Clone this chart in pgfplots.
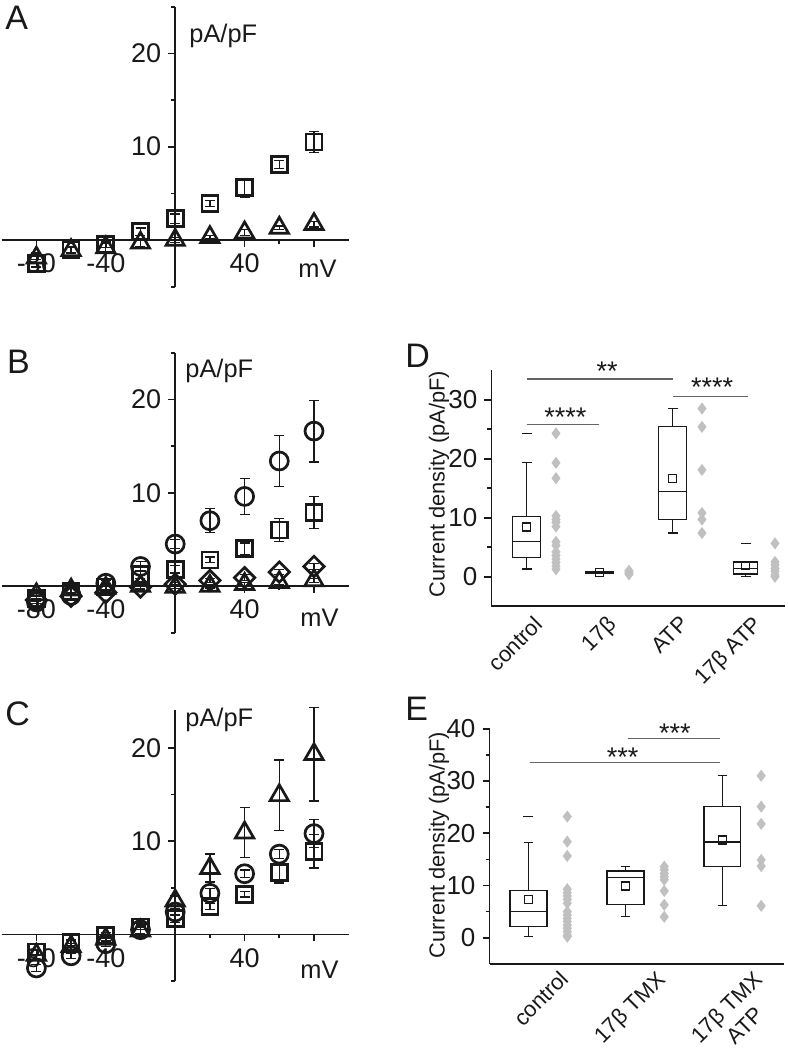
\documentclass[border=0pt]{standalone}
\usepackage{fontspec}
\setmainfont{Liberation Sans}
\usepackage{pgfplots}
\pgfplotsset{compat=1.18}
\usepgfplotslibrary{statistics}
\definecolor{dotgray}{RGB}{192,192,192}
\definecolor{siggray}{RGB}{100,100,100}
\definecolor{ink}{RGB}{25,25,25}

\pgfplotsset{
  iv/.style={
    scale only axis, width=173.5pt,
    axis lines=middle, axis line style={-, line width=0.85pt, ink},
    xmin=-100, xmax=100, ymin=-5,
    xtick={-80,-40,40,80}, xticklabels={-80,-40,40,{}},
    minor xtick={-60,-20,20,60},
    ytick={10,20}, minor ytick={-5,5,15,25},
    tick align=outside, major tick length=3.5pt, minor tick length=2pt,
    every tick/.style={line width=0.85pt, ink},
    ticklabel style={font=\fontsize{13.5}{16}\selectfont, text=ink},
    /pgf/number format/assume math mode=true,
    clip=false,
  },
  ivpt/.style={only marks, line width=1.35pt, ink,
    error bars/y dir=both, error bars/y explicit, error bars/error mark=-,
    error bars/error mark options={rotate=90, mark size=2.5pt, line width=0.65pt, ink},
    error bars/error bar style={line width=0.65pt, ink}},
  bx/.style={
    scale only axis, axis lines=left, axis line style={-, line width=0.8pt, ink},
    ymin=-5, clip=false,
    xtick style={draw=none},
    ytick style={line width=0.8pt, ink},
    tick align=outside, major tick length=3.5pt, minor tick length=2pt,
    yticklabel style={font=\fontsize{13}{15}\selectfont, text=ink},
    xticklabel style={font=\fontsize{11}{13}\selectfont, text=ink},
    /pgf/number format/assume math mode=true,
  },
  bxp/.style={ink, line width=0.65pt},
  meanpt/.style={only marks, mark=square, mark size=2pt, ink, line width=0.65pt},
  maxpt/.style={only marks, mark=-, mark size=2.5pt, ink, line width=0.65pt},
  dots/.style={only marks, mark=diamond*, mark size=2.7pt, dotgray, mark options={draw=dotgray, fill=dotgray}},
}
\tikzset{
  plab/.style={inner sep=0pt, anchor=base west, font=\fontsize{17}{20}\selectfont, text=ink},
  ulab/.style={inner sep=0pt, anchor=base west, font=\fontsize{12.7}{15}\selectfont, text=ink},
  ylab/.style={inner sep=0pt, anchor=center, rotate=90, font=\fontsize{10.9}{13}\selectfont, text=ink},
  stars/.style={inner sep=0pt, anchor=base, font=\fontsize{13.5}{16}\selectfont, text=ink},
}

\begin{document}
\begin{tikzpicture}
\useasboundingbox (0,0) rectangle (393.5pt,-524pt);

% ---------------- Panel A ----------------
\begin{axis}[iv, at={(0.85pt,-143.35pt)}, anchor=south west, height=140pt, ymax=25]
\addplot[ivpt, mark=triangle, mark size=5.3pt] table[x=x,y=y,y error=e] {
x y e
-80 -1.9 0.5
-60 -1.1 0.3
-40 -0.8 0.4
-20 -0.3 0.4
0 0.0 0.3
20 0.3 0.2
40 0.8 0.3
60 1.3 0.2
80 1.7 0.3
};
\addplot[ivpt, mark=square, mark size=4pt] table[x=x,y=y,y error=e] {
x y e
-80 -2.5 0.4
-60 -1.0 0.3
-40 -0.5 0.3
-20 0.9 0.4
0 2.3 0.5
20 3.9 0.3
40 5.6 1.0
60 8.1 0.4
80 10.5 1.1
};
\end{axis}
\node[plab] at (2.5pt,-15pt) {A};
\node[ulab] at (94.5pt,-21.35pt) {pA/pF};
\node[ulab] at (149pt,-138.85pt) {mV};

% ---------------- Panel B ----------------
\begin{axis}[iv, at={(0.85pt,-316.35pt)}, anchor=south west, height=140pt, ymax=25]
\addplot[ivpt, mark=triangle, mark size=5.3pt] table[x=x,y=y,y error=e] {
x y e
-80 -0.9 0.5
-60 -0.4 0.3
-40 -0.2 0.3
-20 0.0 0.3
0 -0.1 0.2
20 0.0 0.2
40 0.2 0.2
60 0.4 0.2
80 0.6 0.2
};
\addplot[ivpt, mark=square, mark size=3.6pt, mark options={rotate=45}] table[x=x,y=y,y error=e] {
x y e
-80 -1.5 0.4
-60 -1.1 0.3
-40 -0.7 0.3
-20 -0.1 0.3
0 0.2 0.2
20 0.6 0.2
40 0.9 0.3
60 1.5 0.3
80 2.1 0.3
};
\addplot[ivpt, mark=square, mark size=4pt] table[x=x,y=y,y error=e] {
x y e
-80 -1.3 0.3
-60 -0.6 0.3
-40 -0.1 0.3
-20 1.2 0.4
0 1.8 0.4
20 2.8 0.3
40 4.0 0.6
60 6.0 1.2
80 7.9 1.7
};
\addplot[ivpt, mark=o, mark size=4.5pt] table[x=x,y=y,y error=e] {
x y e
-80 -1.7 0.4
-60 -1.0 0.3
-40 0.3 0.3
-20 2.1 0.5
0 4.5 0.5
20 7.0 1.3
40 9.6 1.9
60 13.4 2.7
80 16.6 3.3
};
\end{axis}
\node[plab] at (3.35pt,-186.5pt) {B};
\node[ulab] at (92.5pt,-188.85pt) {pA/pF};
\node[ulab] at (150pt,-313pt) {mV};

% ---------------- Panel C ----------------
\begin{axis}[iv, at={(0.85pt,-490.5pt)}, anchor=south west, height=135.3pt, ymax=24]
\addplot[ivpt, mark=square, mark size=4pt] table[x=x,y=y,y error=e] {
x y e
-80 -1.9 0.3
-60 -0.9 0.3
-40 -0.1 0.3
-20 0.8 0.3
0 1.7 0.4
20 3.0 0.3
40 4.3 0.3
60 6.6 1.1
80 8.9 1.8
};
\addplot[ivpt, mark=o, mark size=4.5pt] table[x=x,y=y,y error=e] {
x y e
-80 -3.6 0.4
-60 -2.3 0.3
-40 -1.0 0.3
-20 0.5 0.4
0 2.4 0.4
20 4.4 0.5
40 6.5 0.4
60 8.6 0.5
80 10.8 1.5
};
\addplot[ivpt, mark=triangle, mark size=5.3pt] table[x=x,y=y,y error=e] {
x y e
-80 -2.2 0.5
-60 -1.3 0.3
-40 -0.5 0.3
-20 0.4 0.3
0 3.6 0.5
20 7.1 1.5
40 10.9 2.7
60 14.9 3.8
80 19.3 5.0
};
\end{axis}
\node[plab] at (2.5pt,-362.5pt) {C};
\node[ulab] at (92.5pt,-363pt) {pA/pF};
\node[ulab] at (150pt,-489pt) {mV};

% ---------------- Panel D ----------------
\begin{axis}[bx, at={(245.65pt,-303.1pt)}, anchor=south west, width=146.95pt, height=118pt,
  xmin=0.514, xmax=4.54, ymax=35, ytick={0,10,20,30}, minor ytick={5,15,25},
  xtick={1,2,3,4}, xticklabels={control,17β,ATP,17β ATP},
  xticklabel style={inner sep=0pt, xshift=3pt, yshift=-0.5pt, rotate=45, anchor=north east}]
\addplot[bxp, boxplot prepared={draw direction=y, draw position=1, lower whisker=1.3, lower quartile=3.2, median=6.0, upper quartile=10.2, upper whisker=19.3, box extend=0.384, whisker extend=0.137}] coordinates {};
\addplot[bxp, boxplot prepared={draw direction=y, draw position=2, lower whisker=0.7, lower quartile=0.5, median=0.7, upper quartile=0.9, upper whisker=0.7, box extend=0.384, whisker extend=0.384}] coordinates {};
\addplot[bxp, boxplot prepared={draw direction=y, draw position=3, lower whisker=7.4, lower quartile=9.7, median=14.4, upper quartile=25.4, upper whisker=28.5, box extend=0.384, whisker extend=0.137}] coordinates {};
\addplot[bxp, boxplot prepared={draw direction=y, draw position=4, lower whisker=0.0, lower quartile=0.45, median=1.4, upper quartile=2.5, upper whisker=2.5, box extend=0.33, whisker extend=0.137}] coordinates {};
\addplot[meanpt] coordinates {(1,8.4) (2,0.7) (3,16.7) (4,1.9)};
\addplot[maxpt] coordinates {(1,24.3) (4,5.65)};
\addplot[dots] coordinates {
(1.4,24.3) (1.4,19.3) (1.4,16.7) (1.4,10.3) (1.4,9.7) (1.4,9.2) (1.4,8.5)
(1.4,5.9) (1.4,5.3) (1.4,4.2) (1.4,3.6) (1.4,3.0) (1.4,2.4) (1.4,1.8) (1.4,1.25)
(2.4,0.4) (2.4,0.6) (2.4,0.8) (2.4,1.0)
(3.4,28.5) (3.4,25.4) (3.4,18.1) (3.4,10.8) (3.4,9.7) (3.4,7.4)
(4.4,5.65) (4.4,2.5) (4.4,2.0) (4.4,1.4) (4.4,0.9) (4.4,0.3) (4.4,0.0)
};
\draw[siggray, line width=0.6pt] (axis cs:1,33.5) -- (axis cs:3,33.5);
\node[stars] at (axis cs:2.1,33.3) {**};
\draw[siggray, line width=0.6pt] (axis cs:3,30.5) -- (axis cs:4.03,30.5);
\node[stars] at (axis cs:3.54,30.6) {****};
\draw[siggray, line width=0.6pt] (axis cs:1,25.8) -- (axis cs:1.99,25.8);
\node[stars] at (axis cs:1.53,25.5) {****};
\end{axis}
\node[plab] at (202.5pt,-183.5pt) {D};
\node[ylab] at (219.5pt,-242pt) {Current density (pA/pF)};

% ---------------- Panel E ----------------
\begin{axis}[bx, at={(244.75pt,-481.9pt)}, anchor=south west, width=147pt, height=117.5pt,
  xmin=0.598, xmax=3.63, ymax=40, ytick={0,10,20,30,40}, minor ytick={5,15,25,35},
  xtick={1,2,3}, xticklabels={control,17β TMX,{17β TMX\\ATP}},
  xticklabel style={inner sep=0pt, align=center, xshift=15pt, yshift=1pt, rotate=45, anchor=north east}]
\addplot[bxp, boxplot prepared={draw direction=y, draw position=1, lower whisker=0.2, lower quartile=2.1, median=5.0, upper quartile=9.1, upper whisker=18.2, box extend=0.38, whisker extend=0.1}] coordinates {};
\addplot[bxp, boxplot prepared={draw direction=y, draw position=2, lower whisker=4.0, lower quartile=6.3, median=11.5, upper quartile=12.8, upper whisker=13.6, box extend=0.38, whisker extend=0.1}] coordinates {};
\addplot[bxp, boxplot prepared={draw direction=y, draw position=3, lower whisker=6.1, lower quartile=13.7, median=18.3, upper quartile=25.1, upper whisker=31.0, box extend=0.38, whisker extend=0.1}] coordinates {};
\addplot[meanpt] coordinates {(1,7.35) (2,9.9) (3,18.7)};
\addplot[maxpt] coordinates {(1,23.2)};
\addplot[dots] coordinates {
(1.4,23.2) (1.4,18.4) (1.4,15.65) (1.4,9.3) (1.4,8.6) (1.4,8.0) (1.4,7.35) (1.4,6.6)
(1.4,5.0) (1.4,4.35) (1.4,3.7) (1.4,3.1) (1.4,2.4) (1.4,1.8) (1.4,1.15) (1.4,0.5) (1.4,0.2)
(2.4,13.6) (2.4,13.0) (2.4,12.3) (2.4,11.7) (2.4,11.1) (2.4,8.95) (2.4,6.3) (2.4,4.0)
(3.4,31.0) (3.4,25.1) (3.4,21.8) (3.4,14.9) (3.4,13.7) (3.4,6.1)
};
\draw[siggray, line width=0.6pt] (axis cs:2.03,38.1) -- (axis cs:2.98,38.1);
\node[stars] at (axis cs:2.51,37.3) {***};
\draw[siggray, line width=0.6pt] (axis cs:1.02,33.6) -- (axis cs:2.98,33.6);
\node[stars] at (axis cs:1.97,32.7) {***};
\end{axis}
\node[plab] at (202.5pt,-360pt) {E};
\node[ylab] at (219.5pt,-422.5pt) {Current density (pA/pF)};
\end{tikzpicture}
\end{document}
